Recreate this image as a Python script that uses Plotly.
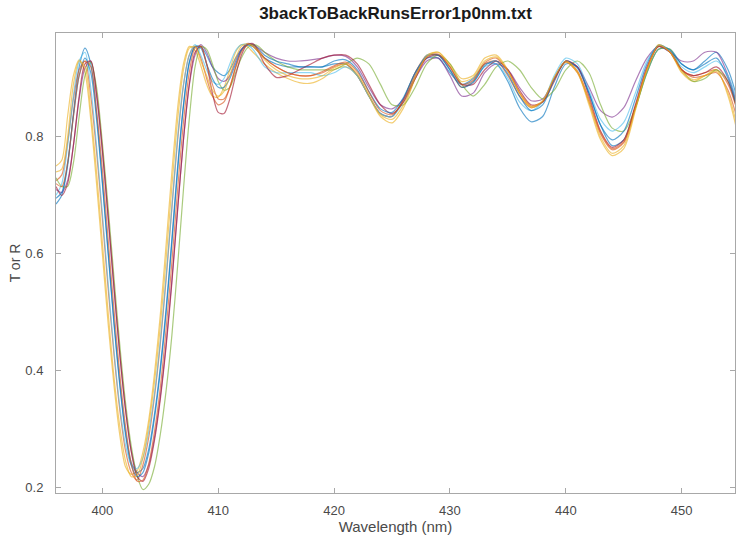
import plotly.graph_objects as go

wavelength = [396, 396.5, 397, 397.5, 398, 398.5, 399, 399.5, 400, 400.5, 401, 401.5, 402, 402.5,
              403, 403.5, 404, 404.5, 405, 405.5, 406, 406.5, 407, 407.5, 408, 408.5, 409, 409.5,
              410, 410.5, 411, 411.5, 412, 412.5, 413, 413.5, 414,
              415, 416, 417, 418, 419, 420, 421, 422, 423, 424, 425, 426, 427, 428, 429, 430,
              431, 432, 433, 434, 435, 436, 437, 438, 439, 440, 441, 442, 443, 444, 445, 446,
              447, 448, 449, 450, 451, 452, 453, 454, 455]

run01 = [0.685, 0.70, 0.75, 0.84, 0.92, 0.952, 0.925, 0.84, 0.725, 0.605, 0.485, 0.38, 0.295, 0.242,
         0.225, 0.232, 0.265, 0.325, 0.405, 0.505, 0.625, 0.75, 0.855, 0.928, 0.955, 0.955, 0.94, 0.92,
         0.91, 0.905, 0.915, 0.935, 0.95, 0.957, 0.955, 0.945, 0.935,
         0.925, 0.92, 0.92, 0.92, 0.92, 0.925, 0.925, 0.905, 0.87, 0.84, 0.835, 0.865, 0.91, 0.935, 0.935, 0.91,
         0.89, 0.90, 0.925, 0.925, 0.895, 0.85, 0.826, 0.835, 0.885, 0.925, 0.92, 0.875, 0.82, 0.785, 0.795, 0.85,
         0.91, 0.95, 0.95, 0.925, 0.915, 0.93, 0.945, 0.915, 0.85]

run02 = [0.725, 0.735, 0.79, 0.865, 0.915, 0.93, 0.87, 0.775, 0.66, 0.54, 0.428, 0.333, 0.262, 0.225,
         0.212, 0.238, 0.285, 0.355, 0.445, 0.555, 0.678, 0.795, 0.888, 0.94, 0.955, 0.935, 0.90, 0.87,
         0.855, 0.86, 0.885, 0.92, 0.948, 0.958, 0.955, 0.945, 0.935,
         0.92, 0.91, 0.905, 0.905, 0.91, 0.92, 0.925, 0.905, 0.87, 0.84, 0.835, 0.865, 0.91, 0.94, 0.94, 0.915,
         0.885, 0.895, 0.925, 0.93, 0.905, 0.87, 0.85, 0.86, 0.90, 0.928, 0.91, 0.86, 0.805, 0.778, 0.79, 0.85,
         0.915, 0.955, 0.945, 0.915, 0.905, 0.91, 0.915, 0.89, 0.83]

run03 = [0.75, 0.76, 0.835, 0.905, 0.932, 0.91, 0.83, 0.72, 0.60, 0.48, 0.375, 0.29, 0.235, 0.222,
         0.228, 0.26, 0.315, 0.395, 0.495, 0.615, 0.74, 0.85, 0.925, 0.955, 0.948, 0.922, 0.89, 0.87,
         0.868, 0.885, 0.915, 0.945, 0.958, 0.955, 0.945, 0.935, 0.925,
         0.91, 0.90, 0.893, 0.892, 0.90, 0.915, 0.92, 0.905, 0.87, 0.835, 0.824, 0.85, 0.90, 0.94, 0.945, 0.925,
         0.90, 0.905, 0.935, 0.94, 0.915, 0.875, 0.85, 0.86, 0.90, 0.928, 0.91, 0.855, 0.795, 0.768, 0.78, 0.845,
         0.915, 0.958, 0.945, 0.91, 0.895, 0.905, 0.915, 0.87, 0.79]

run04 = [0.71, 0.705, 0.725, 0.785, 0.865, 0.918, 0.93, 0.87, 0.775, 0.66, 0.54, 0.428, 0.333, 0.262,
         0.225, 0.218, 0.238, 0.285, 0.355, 0.445, 0.555, 0.678, 0.795, 0.888, 0.94, 0.958, 0.945, 0.92,
         0.90, 0.895, 0.905, 0.93, 0.95, 0.96, 0.958, 0.952, 0.945,
         0.935, 0.93, 0.93, 0.932, 0.935, 0.94, 0.938, 0.92, 0.885, 0.855, 0.848, 0.865, 0.90, 0.93, 0.935, 0.905,
         0.87, 0.875, 0.91, 0.925, 0.915, 0.885, 0.862, 0.865, 0.90, 0.93, 0.92, 0.885, 0.845, 0.834, 0.85, 0.895,
         0.935, 0.955, 0.945, 0.93, 0.93, 0.945, 0.945, 0.905, 0.84]

run05 = [0.73, 0.715, 0.715, 0.755, 0.835, 0.905, 0.928, 0.885, 0.79, 0.68, 0.56, 0.445, 0.345, 0.27,
         0.22, 0.196, 0.205, 0.235, 0.29, 0.365, 0.46, 0.58, 0.71, 0.83, 0.92, 0.955, 0.95, 0.925,
         0.895, 0.88, 0.885, 0.91, 0.935, 0.952, 0.958, 0.955, 0.945,
         0.93, 0.92, 0.915, 0.915, 0.915, 0.915, 0.925, 0.935, 0.925, 0.89, 0.855, 0.855, 0.885, 0.925, 0.94, 0.925,
         0.89, 0.87, 0.89, 0.92, 0.93, 0.915, 0.885, 0.865, 0.88, 0.915, 0.93, 0.91, 0.855, 0.815, 0.81, 0.85,
         0.91, 0.95, 0.95, 0.915, 0.895, 0.90, 0.915, 0.895, 0.83]

run06 = [0.70, 0.72, 0.785, 0.87, 0.93, 0.945, 0.885, 0.785, 0.67, 0.55, 0.435, 0.34, 0.272, 0.238,
         0.232, 0.25, 0.295, 0.36, 0.45, 0.56, 0.68, 0.80, 0.89, 0.94, 0.958, 0.94, 0.915, 0.895,
         0.89, 0.90, 0.925, 0.948, 0.958, 0.958, 0.95, 0.935, 0.92,
         0.91, 0.91, 0.91, 0.91, 0.905, 0.91, 0.92, 0.905, 0.87, 0.84, 0.835, 0.86, 0.905, 0.94, 0.94, 0.915,
         0.89, 0.895, 0.92, 0.925, 0.90, 0.86, 0.845, 0.86, 0.905, 0.935, 0.925, 0.88, 0.83, 0.81, 0.825, 0.875,
         0.93, 0.955, 0.945, 0.92, 0.91, 0.92, 0.93, 0.905, 0.845]

run07 = [0.715, 0.70, 0.72, 0.785, 0.87, 0.925, 0.93, 0.875, 0.78, 0.665, 0.545, 0.43, 0.333, 0.26,
         0.218, 0.21, 0.232, 0.28, 0.35, 0.44, 0.55, 0.675, 0.795, 0.89, 0.945, 0.955, 0.925, 0.875,
         0.842, 0.84, 0.865, 0.905, 0.94, 0.958, 0.96, 0.945, 0.925,
         0.902, 0.905, 0.915, 0.925, 0.935, 0.94, 0.94, 0.925, 0.89, 0.855, 0.84, 0.86, 0.90, 0.935, 0.94, 0.92,
         0.89, 0.89, 0.915, 0.93, 0.915, 0.88, 0.855, 0.86, 0.895, 0.93, 0.92, 0.87, 0.81, 0.782, 0.795, 0.855,
         0.92, 0.955, 0.945, 0.915, 0.905, 0.91, 0.92, 0.895, 0.83]

run08 = [0.695, 0.705, 0.755, 0.835, 0.905, 0.935, 0.91, 0.83, 0.72, 0.60, 0.48, 0.375, 0.29, 0.237,
         0.218, 0.225, 0.258, 0.318, 0.398, 0.498, 0.618, 0.742, 0.852, 0.926, 0.955, 0.952, 0.925, 0.90,
         0.885, 0.885, 0.90, 0.925, 0.948, 0.958, 0.958, 0.95, 0.94,
         0.93, 0.925, 0.92, 0.92, 0.92, 0.93, 0.932, 0.915, 0.878, 0.848, 0.842, 0.868, 0.91, 0.938, 0.94, 0.915,
         0.885, 0.893, 0.922, 0.93, 0.908, 0.87, 0.845, 0.855, 0.898, 0.93, 0.918, 0.875, 0.82, 0.795, 0.81, 0.865,
         0.925, 0.957, 0.948, 0.925, 0.915, 0.925, 0.935, 0.90, 0.835]

run09 = [0.72, 0.715, 0.755, 0.835, 0.905, 0.93, 0.92, 0.845, 0.745, 0.625, 0.505, 0.395, 0.305, 0.24,
         0.21, 0.212, 0.24, 0.295, 0.37, 0.47, 0.585, 0.71, 0.825, 0.91, 0.952, 0.955, 0.925, 0.89,
         0.865, 0.865, 0.885, 0.918, 0.945, 0.958, 0.958, 0.948, 0.935,
         0.92, 0.91, 0.905, 0.905, 0.912, 0.922, 0.928, 0.912, 0.877, 0.845, 0.838, 0.862, 0.905, 0.937, 0.942, 0.92,
         0.89, 0.897, 0.927, 0.935, 0.912, 0.876, 0.853, 0.86, 0.90, 0.93, 0.913, 0.865, 0.808, 0.78, 0.792, 0.852,
         0.917, 0.955, 0.945, 0.915, 0.902, 0.905, 0.91, 0.88, 0.815]

run10 = [0.74, 0.745, 0.80, 0.89, 0.93, 0.92, 0.845, 0.74, 0.62, 0.50, 0.39, 0.305, 0.245, 0.218,
         0.22, 0.25, 0.305, 0.38, 0.475, 0.59, 0.715, 0.83, 0.915, 0.952, 0.955, 0.93, 0.905, 0.88,
         0.87, 0.878, 0.905, 0.935, 0.955, 0.96, 0.955, 0.945, 0.932,
         0.915, 0.905, 0.90, 0.90, 0.905, 0.918, 0.925, 0.908, 0.872, 0.838, 0.83, 0.855, 0.902, 0.938, 0.945, 0.922,
         0.895, 0.902, 0.93, 0.937, 0.913, 0.875, 0.852, 0.862, 0.902, 0.93, 0.912, 0.86, 0.80, 0.772, 0.785, 0.848,
         0.915, 0.957, 0.945, 0.912, 0.898, 0.905, 0.912, 0.875, 0.80]

runs = [run01, run02, run03, run04, run05, run06, run07, run08, run09, run10]
run_names = ["run 1", "run 2", "run 3", "run 4", "run 5", "run 6", "run 7", "run 8", "run 9", "run 10"]
line_colors = ["#0072BD", "#D95319", "#EDB120", "#7E2F8E", "#77AC30", "#4DBEEE", "#A2142F",
               "#0072BD", "#D95319", "#EDB120"]

x_ticks = [400, 410, 420, 430, 440, 450]
y_ticks = [0.2, 0.4, 0.6, 0.8]

FONT = "Liberation Sans, Arial, sans-serif"

fig = go.Figure()
for name, vals, col in zip(run_names, runs, line_colors):
    fig.add_trace(go.Scatter(x=wavelength, y=vals, mode="lines", name=name,
                             line=dict(color=col, width=1.2, shape="spline", smoothing=0.8),
                             opacity=0.62, showlegend=False))

axis_common = dict(showline=True, linecolor="#a8a8a8", linewidth=1, mirror="ticks",
                   ticks="inside", ticklen=5, tickcolor="#a8a8a8", showgrid=False, zeroline=False,
                   tickfont=dict(family=FONT, size=13, color="#4a4a4a"))

fig.update_layout(
    width=738, height=535,
    margin=dict(l=56, r=3, t=33, b=42),
    paper_bgcolor="white", plot_bgcolor="white",
    title=dict(text="<b>3backToBackRunsError1p0nm.txt</b>", x=0.5, xref="paper",
               y=1 - 13 / 535, yref="container", yanchor="middle",
               font=dict(family=FONT, size=17, color="#1a1a1a")),
    xaxis=dict(range=[396, 454.6], tickvals=x_ticks, ticktext=[str(v) for v in x_ticks],
               ticklabelstandoff=5,
               title=dict(text="Wavelength (nm)", standoff=5,
                          font=dict(family=FONT, size=15, color="#4a4a4a")),
               **axis_common),
    yaxis=dict(range=[0.19, 0.978], tickvals=y_ticks, ticktext=["0.2", "0.4", "0.6", "0.8"],
               ticklabelstandoff=9,
               title=dict(text="T or R", standoff=1,
                          font=dict(family=FONT, size=14, color="#4a4a4a")),
               **axis_common),
)

fig.write_html("out.html")
